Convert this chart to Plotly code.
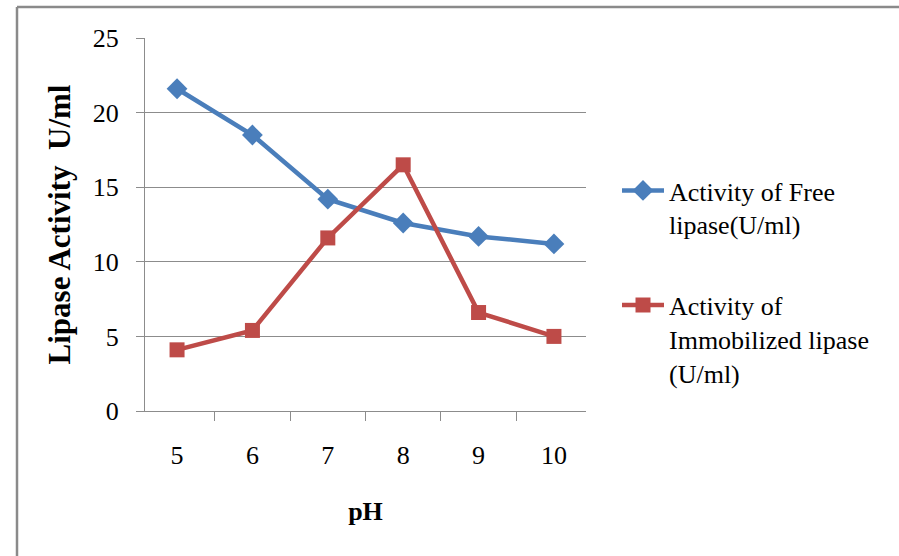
import plotly.graph_objects as go

# pH values tested and measured lipase activity (U/ml)
ph_values = ["5", "6", "7", "8", "9", "10"]
free_activity = [21.6, 18.5, 14.2, 12.6, 11.7, 11.2]
immobilized_activity = [4.1, 5.4, 11.6, 16.5, 6.6, 5.0]
y_ticks = [0, 5, 10, 15, 20, 25]

series_names = ["Activity of Free<br>lipase(U/ml)",
                "Activity of<br>Immobilized lipase<br>(U/ml)"]

BLUE = "#4A7EBB"
RED = "#BE4B48"
GRID = "#8C8C8C"
FONT = "Liberation Serif"

fig = go.Figure()
fig.add_trace(go.Scatter(
    x=ph_values, y=free_activity, name=series_names[0],
    mode="lines+markers", legendgroup="free",
    line=dict(color=BLUE, width=4.5),
    marker=dict(symbol="diamond", size=16, color=BLUE),
))
fig.add_trace(go.Scatter(
    x=ph_values, y=immobilized_activity, name=series_names[1],
    mode="lines+markers", legendgroup="immob",
    line=dict(color=RED, width=4.5),
    marker=dict(symbol="square", size=15, color=RED),
))

W, H = 899, 556
ml, mr, mt, mb = 145, 313, 38, 145
pw, ph = W - ml - mr, H - mt - mb

def px_x(v):
    return (v - ml) / pw

def px_y(v):
    return (H - mb - v) / ph

fig.update_layout(
    width=W, height=H,
    margin=dict(l=ml, r=mr, t=mt, b=mb),
    paper_bgcolor="white", plot_bgcolor="white",
    font=dict(family=FONT, size=26, color="#000000"),
    showlegend=True,
    legend=dict(
        x=px_x(617), y=px_y(167), xanchor="left", yanchor="top",
        traceorder="grouped", tracegroupgap=44, valign="top",
        font=dict(family=FONT, size=26, color="#000000"),
        itemwidth=42, bgcolor="rgba(0,0,0,0)",
    ),
    xaxis=dict(
        type="category", tickson="boundaries",
        ticks="outside", ticklen=9, tickcolor=GRID, tickwidth=1,
        showline=True, linecolor=GRID, linewidth=1,
        showgrid=False, zeroline=False,
        ticklabelstandoff=21,
        tickfont=dict(family=FONT, size=26),
        title=dict(text="<b>pH</b>", font=dict(family=FONT, size=26), standoff=32),
    ),
    yaxis=dict(
        range=[0, 25], tickvals=y_ticks,
        ticks="outside", ticklen=8, tickcolor=GRID, tickwidth=1,
        showline=True, linecolor=GRID, linewidth=1,
        showgrid=True, gridcolor=GRID, gridwidth=1, zeroline=False,
        ticklabelstandoff=12,
        tickfont=dict(family=FONT, size=26),
        title=dict(text="<b>Lipase Activity  U/ml</b>",
                   font=dict(family=FONT, size=31), standoff=12),
    ),
    shapes=[
        dict(type="line", xref="paper", yref="paper",
             x0=px_x(17), x1=px_x(W + 5), y0=px_y(7), y1=px_y(7),
             line=dict(color="#8A8A8A", width=2.5)),
        dict(type="line", xref="paper", yref="paper",
             x0=px_x(17), x1=px_x(17), y0=px_y(7), y1=px_y(H + 5),
             line=dict(color="#8A8A8A", width=2.5)),
    ],
)

fig.write_html("out.html")
